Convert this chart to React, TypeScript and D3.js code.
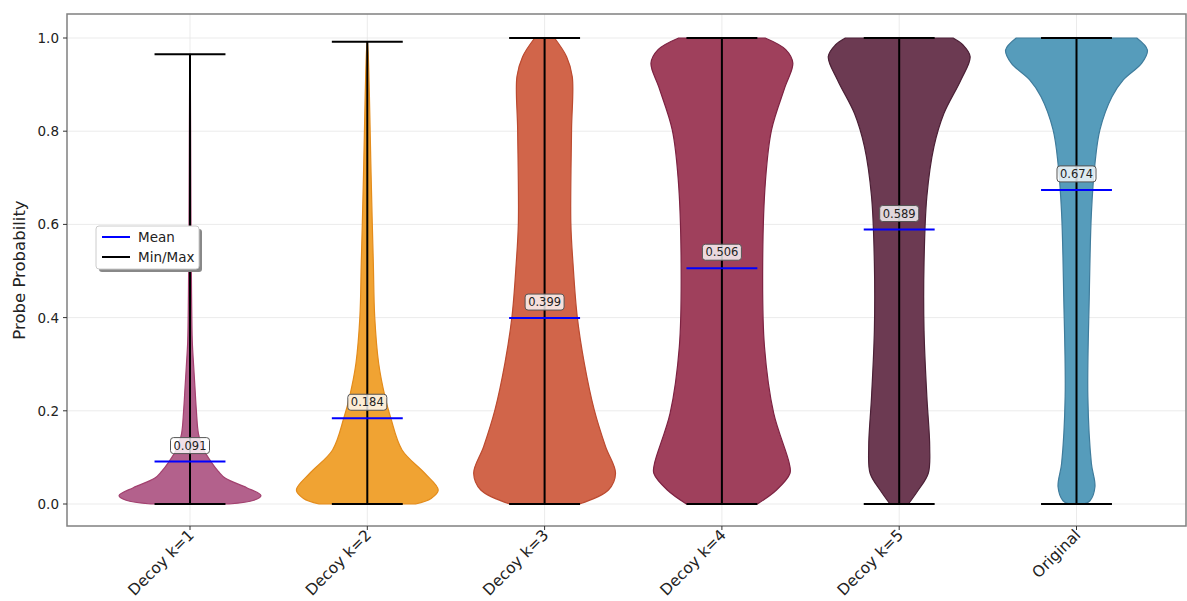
import React from "react";
import * as d3 from "d3";

const categories = ["Decoy k=1", "Decoy k=2", "Decoy k=3", "Decoy k=4", "Decoy k=5", "Original"];
const means = [0.091, 0.184, 0.399, 0.506, 0.589, 0.674];
const mins = [0, 0, 0, 0, 0, 0];
const maxs = [0.965, 0.992, 1.0, 1.0, 1.0, 1.0];
const fills = ["#b3618c", "#f0a333", "#d1654a", "#9f405c", "#6c3a52", "#569cbb"];
const edges = ["#a2416f", "#e38c1c", "#bb4a30", "#7d2242", "#4b2036", "#3f7c9c"];

// density profiles: [value, relative half-width]
const profile1: [number, number][] = [
  [0, 0.55], [0.008, 0.9], [0.018, 1.0], [0.035, 0.8], [0.055, 0.5], [0.07, 0.4], [0.09, 0.3],
  [0.12, 0.18], [0.15, 0.12], [0.2, 0.09], [0.25, 0.07], [0.3, 0.05], [0.35, 0.032],
  [0.45, 0.022], [0.6, 0.014], [0.8, 0.009], [0.965, 0.003],
];
const profile2: [number, number][] = [
  [0, 0.68], [0.012, 0.9], [0.03, 1.0], [0.066, 0.81], [0.116, 0.49], [0.185, 0.33], [0.23, 0.25],
  [0.302, 0.16], [0.4, 0.105], [0.517, 0.085], [0.603, 0.07], [0.73, 0.05], [0.874, 0.03],
  [0.97, 0.012], [0.992, 0.002],
];
const profile3: [number, number][] = [
  [0, 0.49], [0.03, 0.9], [0.066, 1.0], [0.123, 0.86], [0.202, 0.7], [0.302, 0.56], [0.402, 0.46],
  [0.517, 0.4], [0.603, 0.37], [0.803, 0.38], [0.917, 0.39], [0.96, 0.31], [1.0, 0.14],
];
const profile4: [number, number][] = [
  [0, 0.5], [0.03, 0.77], [0.066, 0.96], [0.087, 0.95], [0.195, 0.73], [0.338, 0.6], [0.517, 0.575],
  [0.695, 0.615], [0.803, 0.7], [0.895, 0.89], [0.946, 1.0], [0.975, 0.9], [1.0, 0.61],
];
const profile5: [number, number][] = [
  [0, 0.13], [0.03, 0.27], [0.066, 0.41], [0.123, 0.43], [0.23, 0.39], [0.373, 0.35], [0.517, 0.35],
  [0.66, 0.39], [0.767, 0.49], [0.838, 0.63], [0.91, 0.87], [0.96, 1.0], [0.985, 0.9], [1.0, 0.76],
];
const profile6: [number, number][] = [
  [0, 0.1], [0.007, 0.19], [0.037, 0.26], [0.087, 0.21], [0.23, 0.16], [0.445, 0.18], [0.624, 0.21],
  [0.73, 0.26], [0.803, 0.33], [0.874, 0.5], [0.91, 0.66], [0.946, 0.92], [0.974, 1.0], [1.0, 0.85],
];
const profiles = [profile1, profile2, profile3, profile4, profile5, profile6];
const yTicks = [0, 0.2, 0.4, 0.6, 0.8, 1.0];

const W = 1187, H = 601;
const L = 67, R = 1186, T = 14, B = 526;
const FONT = "'DejaVu Sans', sans-serif";

export default function App() {
  const y = d3.scaleLinear().domain([-0.05, 1.05]).range([527.3, 14.7]);
  const x = d3.scaleLinear().domain([1, 6]).range([190, 1076.5]);
  const halfW = x(1.4) - x(1); // widths 0.8
  const capW = x(1.2) - x(1);

  return (
    <svg width={W} height={H} style={{ position: "absolute", left: 0, top: 0, background: "#fff" }}>
      <defs>
        <clipPath id="plot">
          <rect x={L} y={T} width={R - L} height={B - T} />
        </clipPath>
      </defs>
      {/* grid */}
      {yTicks.map((t) => (
        <line key={"gy" + t} x1={L} x2={R} y1={y(t)} y2={y(t)} stroke="#e6e6e6" strokeWidth={0.8} />
      ))}
      {categories.map((c, i) => (
        <line key={"gx" + c} x1={x(i + 1)} x2={x(i + 1)} y1={T} y2={B} stroke="#e6e6e6" strokeWidth={0.8} />
      ))}
      <g clipPath="url(#plot)">
        {profiles.map((p, i) => {
          const cx = x(i + 1);
          const area = d3
            .area<[number, number]>()
            .curve(d3.curveCatmullRom)
            .y((d) => y(d[0]))
            .x0((d) => cx - d[1] * halfW)
            .x1((d) => cx + d[1] * halfW);
          return (
            <path key={"v" + i} d={area(p) || ""} fill={fills[i]} stroke={edges[i]} strokeWidth={1.2} />
          );
        })}
        {categories.map((c, i) => {
          const cx = x(i + 1);
          return (
            <g key={"s" + i}>
              <line x1={cx} x2={cx} y1={y(mins[i])} y2={y(maxs[i])} stroke="#000" strokeWidth={2} />
              <line x1={cx - capW} x2={cx + capW} y1={y(mins[i])} y2={y(mins[i])} stroke="#000" strokeWidth={2} />
              <line x1={cx - capW} x2={cx + capW} y1={y(maxs[i])} y2={y(maxs[i])} stroke="#000" strokeWidth={2} />
              <line x1={cx - capW} x2={cx + capW} y1={y(means[i])} y2={y(means[i])} stroke="#0000ff" strokeWidth={2} />
            </g>
          );
        })}
        {categories.map((c, i) => {
          const cx = x(i + 1);
          const cy = y(means[i]) - 16;
          return (
            <g key={"lab" + i}>
              <rect x={cx - 19.5} y={cy - 8} width={39} height={16} rx={3} fill="#ffffff" fillOpacity={0.8} stroke="#555" strokeWidth={1} />
              <text x={cx} y={cy + 4} textAnchor="middle" fontFamily={FONT} fontSize={11.5} fill="#222">
                {means[i].toFixed(3)}
              </text>
            </g>
          );
        })}
      </g>
      {/* frame */}
      <rect x={L} y={T} width={R - L} height={B - T} fill="none" stroke="#808080" strokeWidth={1.5} />
      {/* y axis */}
      {yTicks.map((t) => (
        <g key={"yt" + t}>
          <line x1={L - 4} x2={L} y1={y(t)} y2={y(t)} stroke="#333" strokeWidth={1} />
          <text x={L - 8} y={y(t) + 5} textAnchor="end" fontFamily={FONT} fontSize={13.5} fill="#222">
            {t.toFixed(1)}
          </text>
        </g>
      ))}
      <text
        transform={`translate(25,${(T + B) / 2}) rotate(-90)`}
        textAnchor="middle"
        fontFamily={FONT}
        fontSize={16.5}
        fill="#222"
      >
        Probe Probability
      </text>
      {/* x axis */}
      {categories.map((c, i) => (
        <g key={"xt" + i}>
          <line x1={x(i + 1)} x2={x(i + 1)} y1={B} y2={B + 4} stroke="#333" strokeWidth={1} />
          <text
            transform={`translate(${x(i + 1) + 5},${B + 10}) rotate(-45)`}
            textAnchor="end"
            fontFamily={FONT}
            fontSize={15.5}
            fill="#222"
          >
            {c}
          </text>
        </g>
      ))}
      {/* legend */}
      <g>
        <rect x={99} y={229} width={103} height={43} rx={3} fill="#888" />
        <rect x={96} y={226} width={103} height={43} rx={3} fill="#fff" stroke="#ccc" strokeWidth={1} />
        <line x1={102} x2={130} y1={237} y2={237} stroke="#0000ff" strokeWidth={2} />
        <text x={138} y={242} fontFamily={FONT} fontSize={13.5} fill="#222">Mean</text>
        <line x1={102} x2={130} y1={257} y2={257} stroke="#000" strokeWidth={2} />
        <text x={138} y={262} fontFamily={FONT} fontSize={13.5} fill="#222">Min/Max</text>
      </g>
    </svg>
  );
}
